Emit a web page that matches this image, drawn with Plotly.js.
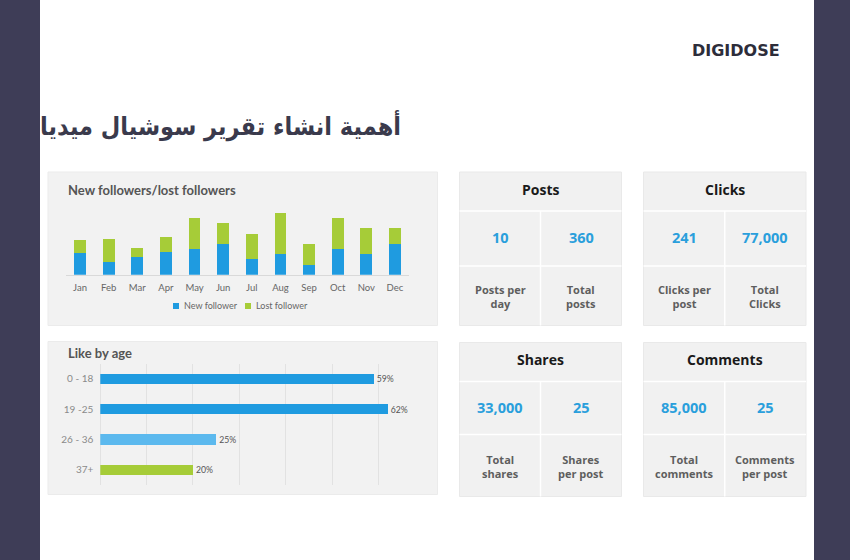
<!DOCTYPE html>
<html><head><meta charset="utf-8">
<script src="https://cdn.plot.ly/plotly-3.0.1.min.js"></script>
<style>html,body{margin:0;padding:0;background:#3e3d57;}#chart{width:850px;height:560px;}</style>
</head><body><div id="chart"></div>
<script>
// ---- data ----
const months = ['Jan','Feb','Mar','Apr','May','Jun','Jul','Aug','Sep','Oct','Nov','Dec'];
const newFollowers = [22,13,18,23,26,31,16,21,10,26,21,31];
const lostFollowers = [13,23,9,15,31,21,25,41,21,31,26,16];
const ageGroups = ['0 - 18','19 -25','26 - 36','37+'];
const likeShare = [59,62,25,20];
const ageColors = ['#1f9be0','#1f9be0','#5cb9ee','#a6cc38'];
const cardTitles = ['Posts','Clicks','Shares','Comments'];
const cardValues = [['10','360'],['241','77,000'],['33,000','25'],['85,000','25']];
const cardLabels = [['Posts per<br>day','Total<br>posts'],['Clicks per<br>post','Total<br>Clicks'],['Total<br>shares','Shares<br>per post'],['Total<br>comments','Comments<br>per post']];
const pageTitle = 'أهمية انشاء تقرير سوشيال ميديا';
const brand = 'DIGIDOSE';

// ---- helpers (pixel -> paper) ----
const W = 850, H = 560;
const px = x => x / W;
const py = y => 1 - y / H;
const BLUE = '#1f9be0', GREEN = '#a6cc38';
const FONT = 'Lato, "Open Sans", sans-serif';

const shapes = [];
const annotations = [];
function rect(x0,y0,x1,y1,fill,line){
  shapes.push({type:'rect',xref:'paper',yref:'paper',x0:px(x0),x1:px(x1),y0:py(y1),y1:py(y0),
    fillcolor:fill,line:line||{width:0},layer:'below'});
}
function hline(x0,x1,y,color,w){shapes.push({type:'line',xref:'paper',yref:'paper',x0:px(x0),x1:px(x1),y0:py(y),y1:py(y),line:{color:color,width:w},layer:'below'});}
function vline(x,y0,y1,color,w){shapes.push({type:'line',xref:'paper',yref:'paper',x0:px(x),x1:px(x),y0:py(y0),y1:py(y1),line:{color:color,width:w},layer:'below'});}
function text(x,y,t,size,color,opts){
  annotations.push(Object.assign({xref:'paper',yref:'paper',x:px(x),y:py(y),text:t,showarrow:false,
    xanchor:'center',yanchor:'middle',font:{family:FONT,size:size,color:color}},opts||{}));
}

// page
rect(40,0,814,560,'#ffffff');
// chart panels
rect(48,172,437.5,325.5,'#f2f2f2',{color:'#ebebeb',width:1});
rect(48,341.5,437.5,494.5,'#f2f2f2',{color:'#ebebeb',width:1});

// cards
const cardBoxes = [
  {x0:459.5,x1:621.5,y0:172,y1:325.5,h:211,m:266},
  {x0:643.5,x1:806,y0:172,y1:325.5,h:211,m:266},
  {x0:459.5,x1:621.5,y0:342.5,y1:496.5,h:381.5,m:434.5},
  {x0:643.5,x1:806,y0:342.5,y1:496.5,h:381.5,m:434.5}
];
const OS = '"Open Sans", sans-serif';
cardBoxes.forEach((b,i)=>{
  rect(b.x0,b.y0,b.x1,b.y1,'#f1f1f1',{color:'#e9e9e9',width:1});
  const mid = (b.x0+b.x1)/2;
  hline(b.x0,b.x1,b.h,'#ffffff',1.5);
  hline(b.x0,b.x1,b.m,'#ffffff',1.5);
  vline(mid,b.h,b.y1,'#ffffff',1.5);
  text(mid,(b.y0+b.h)/2-2.5,'<b>'+cardTitles[i]+'</b>',14,'#1a1a1a',{font:{family:OS,size:14,color:'#1a1a1a'}});
  const c1 = (b.x0+mid)/2, c2 = (mid+b.x1)/2;
  const vy = (b.h+b.m)/2 - 1;
  [c1,c2].forEach((cx,j)=>{
    text(cx,vy,'<b>'+cardValues[i][j]+'</b>',14.5,'#2a9fdc',{font:{family:OS,size:14.5,color:'#2a9fdc'}});
    text(cx,(b.m+b.y1)/2+0.5,'<b>'+cardLabels[i][j]+'</b>',11,'#5a5a5a',{font:{family:OS,size:11,color:'#5e5e5e'}});
  });
});

// titles
text(403,126,'<b>'+pageTitle+'</b>',25,'#3a3a4c',{xanchor:'right',font:{family:'"DejaVu Sans Condensed", "DejaVu Sans", sans-serif',size:25,color:'#3a3a4c'}});
text(782,50,'<b>'+brand+'</b>',16,'#2d2d3a',{xanchor:'right',font:{family:'"DejaVu Sans", sans-serif',size:16,color:'#2d2d3a'}});
text(66,190,'<b>New followers/lost followers</b>',13,'#555555',{xanchor:'left'});
text(66,353,'<b>Like by age</b>',13,'#555555',{xanchor:'left'});

// legend (custom)
rect(173,303,179,309,BLUE);
text(182,306,'New follower',9,'#666666',{xanchor:'left'});
rect(245,303,251,309,GREEN);
text(254,306,'Lost follower',9,'#666666',{xanchor:'left'});

const traces = [
  {type:'bar',x:months,y:newFollowers,name:'New follower',marker:{color:BLUE},width:0.41,xaxis:'x',yaxis:'y',hoverinfo:'skip',showlegend:false},
  {type:'bar',x:months,y:lostFollowers,name:'Lost follower',marker:{color:GREEN},width:0.41,xaxis:'x',yaxis:'y',hoverinfo:'skip',showlegend:false},
  {type:'bar',orientation:'h',x:likeShare,y:ageGroups,marker:{color:ageColors},width:0.35,xaxis:'x2',yaxis:'y2',
   text:likeShare.map(v=>v+'%'),textposition:'outside',cliponaxis:false,textfont:{family:FONT,size:9,color:'#555555'},hoverinfo:'skip',showlegend:false}
];

const layout = {
  width:W,height:H,margin:{l:0,r:0,t:0,b:0},
  paper_bgcolor:'#3e3d57',plot_bgcolor:'rgba(0,0,0,0)',
  barmode:'stack',showlegend:false,
  font:{family:FONT},
  xaxis:{domain:[px(65.7),px(409.3)],type:'category',showgrid:false,zeroline:false,showline:true,linecolor:'#d9d9d9',linewidth:1,
    ticks:'',tickfont:{family:FONT,size:9.5,color:'#666666'},ticklabelstandoff:4,fixedrange:true},
  yaxis:{domain:[py(274.7),py(204.7)],range:[0,70],showgrid:false,zeroline:false,showticklabels:false,fixedrange:true},
  xaxis2:{domain:[px(100.3),px(424.7)],range:[0,70],dtick:10,showgrid:true,gridcolor:'#e2e2e2',gridwidth:1,zeroline:true,zerolinecolor:'#e2e2e2',
    showticklabels:false,anchor:'y2',fixedrange:true},
  yaxis2:{domain:[py(485),py(363.7)],type:'category',autorange:'reversed',anchor:'x2',showgrid:false,zeroline:false,ticks:'',
    tickfont:{family:FONT,size:10,color:'#8a8a8a'},ticklabelstandoff:6,fixedrange:true},
  shapes:shapes,annotations:annotations
};
Plotly.newPlot('chart',traces,layout,{staticPlot:true,displayModeBar:false});
</script></body></html>
